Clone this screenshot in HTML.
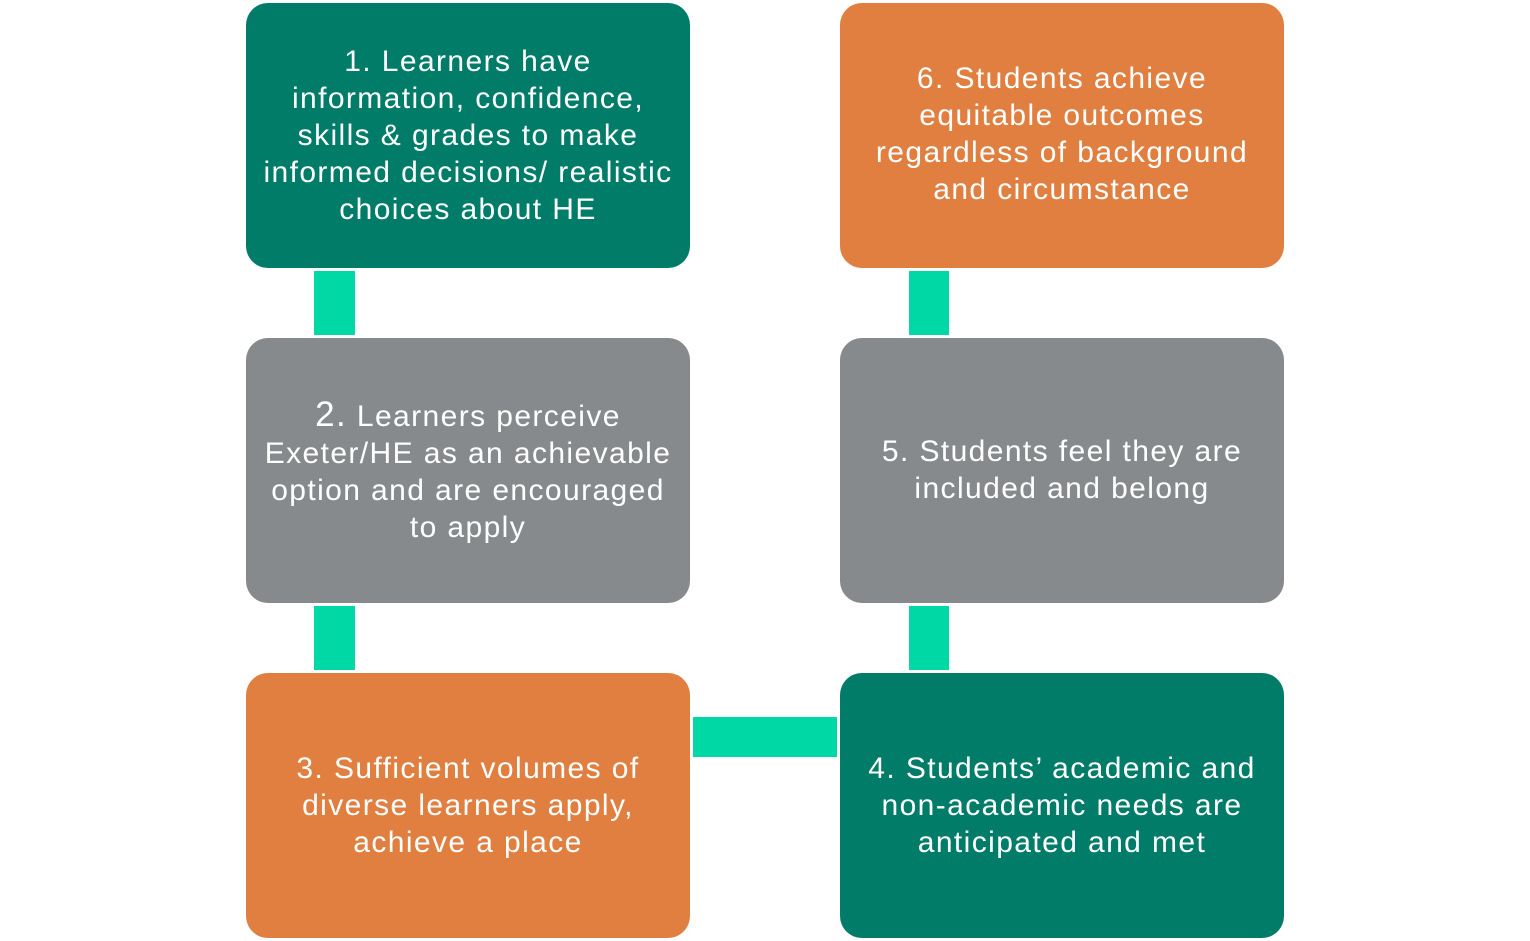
<!DOCTYPE html>
<html><head><style>
body{margin:0;width:1530px;height:941px;background:#fff;position:relative;overflow:hidden;font-family:"Liberation Sans","DejaVu Sans",sans-serif}
.b{position:absolute;width:444px;height:265px;border-radius:22px;color:#fff;display:flex;align-items:center;justify-content:center;text-align:center;font-size:30px;line-height:37px;letter-spacing:1.4px;box-sizing:border-box;white-space:nowrap}
.g{background:#007C69}.o{background:#E07F40}.y{background:#878A8C}
.c{position:absolute;background:#00D8A6}
</style></head><body>
<div class="b g" style="left:246px;top:3px"><div>1. Learners have<br>information, confidence,<br>skills &amp; grades to make<br>informed decisions/ realistic<br>choices about HE</div></div>
<div class="b y" style="left:246px;top:338px"><div><span style="font-size:35px">2.</span> Learners perceive<br>Exeter/HE as an achievable<br>option and are encouraged<br>to apply</div></div>
<div class="b o" style="left:246px;top:673px"><div>3. Sufficient volumes of<br>diverse learners apply,<br>achieve a place</div></div>
<div class="b o" style="left:840px;top:3px;padding-bottom:3px"><div>6. Students achieve<br>equitable outcomes<br>regardless of background<br>and circumstance</div></div>
<div class="b y" style="left:840px;top:338px;padding-bottom:2px"><div>5. Students feel they are<br>included and belong</div></div>
<div class="b g" style="left:840px;top:673px"><div>4. Students’ academic and<br>non-academic needs are<br>anticipated and met</div></div>
<div class="c" style="left:314px;top:271px;width:41px;height:64px"></div>
<div class="c" style="left:314px;top:606px;width:41px;height:64px"></div>
<div class="c" style="left:909px;top:271px;width:40px;height:64px"></div>
<div class="c" style="left:909px;top:606px;width:40px;height:64px"></div>
<div class="c" style="left:693px;top:717px;width:144px;height:40px"></div>
</body></html>
